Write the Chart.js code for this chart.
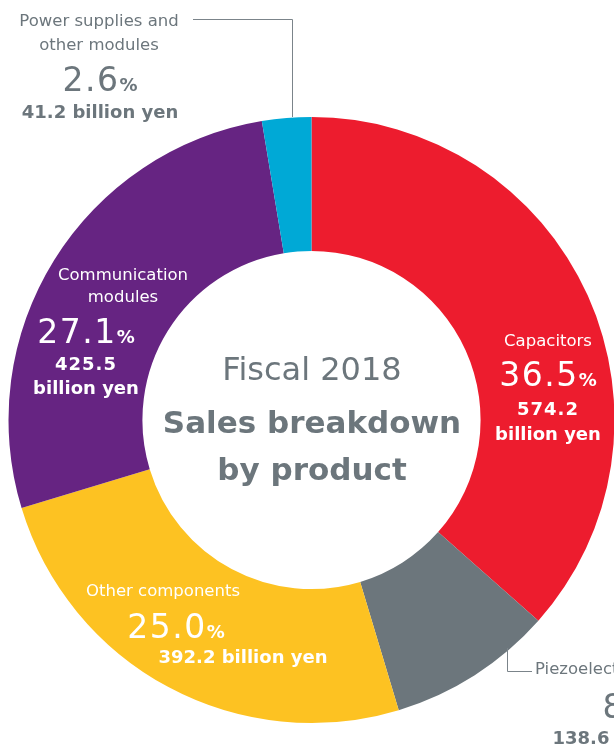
<!DOCTYPE html>
<html>
<head>
<meta charset="utf-8">
<title>Fiscal 2018 Sales breakdown by product</title>
<script src="https://cdn.jsdelivr.net/npm/chart.js@4/dist/chart.umd.min.js"></script>
<style>
  html, body { margin: 0; padding: 0; background: #ffffff; overflow: hidden; width: 614px; height: 751px; }
  #wrap { position: absolute; left: 0; top: 0; width: 640px; height: 760px; }
</style>
</head>
<body>
<div id="wrap"><canvas id="chart" width="640" height="760"></canvas></div>
<script>
// Sales by product, fiscal 2018 (billion yen), clockwise from 12 o'clock
const categories = ['Capacitors', 'Piezoelectric products', 'Other components', 'Communication modules', 'Power supplies and other modules'];
const salesBillionYen = [574.2, 138.6, 392.2, 425.5, 41.2];
const sharePercent = [36.5, 8.8, 25.0, 27.1, 2.6];
const sliceColors = ['#ed1c2e', '#6c767c', '#fdc222', '#662482', '#00a9d6'];

const FONT = '"DejaVu Sans", "Open Sans", sans-serif';
const GRAY = '#6c767c';

// Draws a line made of differently styled runs, centred on x (or left-aligned)
function drawRuns(ctx, runs, x, y, align) {
  let total = 0;
  runs.forEach(r => {
    ctx.font = r.font;
    ctx.letterSpacing = r.ls || '0px';
    r.w = ctx.measureText(r.text).width;
    total += r.w;
  });
  let cx = align === 'left' ? x : x - total / 2;
  ctx.textAlign = 'left';
  ctx.textBaseline = 'alphabetic';
  runs.forEach(r => {
    ctx.font = r.font;
    ctx.letterSpacing = r.ls || '0px';
    ctx.fillStyle = r.color;
    ctx.fillText(r.text, cx, y);
    cx += r.w;
  });
  ctx.letterSpacing = '0px';
}

const labelPlugin = {
  id: 'sliceLabels',
  afterDraw(chart) {
    const ctx = chart.ctx;
    ctx.save();
    const W = '#ffffff';
    const pct = i => sharePercent[i].toFixed(1);
    const yen = i => salesBillionYen[i].toFixed(1);
    const big = '400 33px ' + FONT;
    const bigLs = '1.5px';
    const pc = '700 18px ' + FONT;
    const name = '400 16.5px ' + FONT;
    const amt = '700 18px ' + FONT;
    const share = (i, color) => [{text: pct(i), font: big, color, ls: bigLs}, {text: '%', font: pc, color}];

    // centre caption
    drawRuns(ctx, [{text: 'Fiscal 2018', font: '400 32px ' + FONT, color: GRAY}], 312, 380);
    drawRuns(ctx, [{text: 'Sales breakdown', font: '700 31px ' + FONT, color: GRAY}], 312, 433);
    drawRuns(ctx, [{text: 'by product', font: '700 31px ' + FONT, color: GRAY}], 312, 480);

    // Capacitors
    drawRuns(ctx, [{text: categories[0], font: name, color: W}], 548, 346);
    drawRuns(ctx, share(0, W), 548, 386);
    drawRuns(ctx, [{text: yen(0), font: amt, color: W, ls: '1px'}], 548, 415);
    drawRuns(ctx, [{text: 'billion yen', font: amt, color: W}], 548, 440);

    // Communication modules
    drawRuns(ctx, [{text: 'Communication', font: name, color: W}], 123, 280);
    drawRuns(ctx, [{text: 'modules', font: name, color: W}], 123, 302);
    drawRuns(ctx, share(3, W), 86, 343);
    drawRuns(ctx, [{text: yen(3), font: amt, color: W, ls: '1px'}], 86, 370);
    drawRuns(ctx, [{text: 'billion yen', font: amt, color: W}], 86, 394);

    // Other components
    drawRuns(ctx, [{text: categories[2], font: name, color: W}], 163, 596);
    drawRuns(ctx, share(2, W), 176, 638);
    drawRuns(ctx, [{text: yen(2) + ' billion yen', font: amt, color: W}], 243, 663);

    // Power supplies and other modules
    drawRuns(ctx, [{text: 'Power supplies and', font: name, color: GRAY}], 99, 26);
    drawRuns(ctx, [{text: 'other modules', font: name, color: GRAY}], 99, 50);
    drawRuns(ctx, share(4, GRAY), 100, 91);
    drawRuns(ctx, [{text: yen(4) + ' billion yen', font: amt, color: GRAY}], 100, 118);

    // Piezoelectric products
    drawRuns(ctx, [{text: categories[1], font: name, color: GRAY}], 535, 674, 'left');
    drawRuns(ctx, share(1, GRAY), 640, 718);
    drawRuns(ctx, [{text: yen(1) + ' billion yen', font: amt, color: GRAY}], 637, 744);

    // leader lines
    ctx.strokeStyle = '#7b848a';
    ctx.lineWidth = 1;
    ctx.beginPath();
    ctx.moveTo(193, 19.5); ctx.lineTo(292.5, 19.5); ctx.lineTo(292.5, 117);
    ctx.moveTo(507.5, 648); ctx.lineTo(507.5, 671.5); ctx.lineTo(532, 671.5);
    ctx.stroke();
    ctx.restore();
  }
};

new Chart(document.getElementById('chart'), {
  type: 'doughnut',
  data: {
    labels: categories,
    datasets: [{
      data: salesBillionYen,
      backgroundColor: sliceColors,
      borderWidth: 0,
      hoverOffset: 0
    }]
  },
  options: {
    responsive: false,
    animation: false,
    cutout: '55.8%',
    layout: { padding: { left: 8.5, top: 117, right: 25.5, bottom: 37 } },
    plugins: { legend: { display: false }, tooltip: { enabled: false } },
    events: []
  },
  plugins: [labelPlugin]
});
</script>
</body>
</html>
